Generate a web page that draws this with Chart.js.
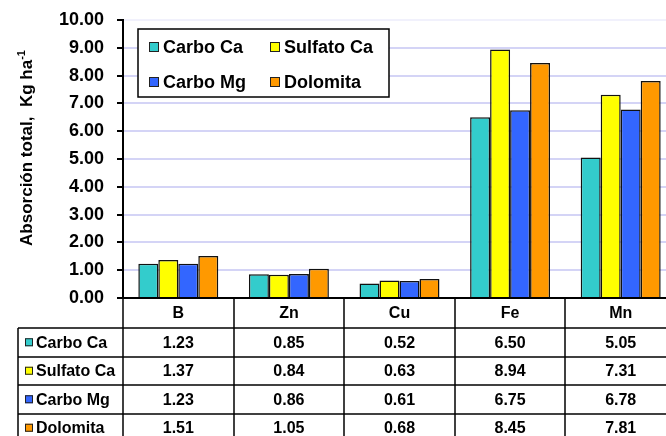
<!DOCTYPE html>
<html>
<head>
<meta charset="utf-8">
<script src="https://cdn.jsdelivr.net/npm/chart.js@4"></script>
<style>
  html, body { margin: 0; padding: 0; background: #fff; overflow: hidden; }
  #wrap { width: 666px; height: 436px; position: relative; overflow: hidden; }
</style>
</head>
<body>
<div id="wrap"><canvas id="chart" width="676" height="436"></canvas></div>
<script>
// --- Data ---
const elements = ["B", "Zn", "Cu", "Fe", "Mn"];
const seriesNames = ["Carbo Ca", "Sulfato Ca", "Carbo Mg", "Dolomita"];
const carboCa = [1.23, 0.85, 0.52, 6.50, 5.05];
const sulfatoCa = [1.37, 0.84, 0.63, 8.94, 7.31];
const carboMg = [1.23, 0.86, 0.61, 6.75, 6.78];
const dolomita = [1.51, 1.05, 0.68, 8.45, 7.81];
const yTicks = [0, 1, 2, 3, 4, 5, 6, 7, 8, 9, 10];

const colors = ["#33CCCC", "#FFFF00", "#3366FF", "#FF9900"];
const allSeries = [carboCa, sulfatoCa, carboMg, dolomita];

const FONT = "Arial, 'Liberation Sans', sans-serif";

// legend box inside the plot, 2 x 2
const legendBox = {
  id: "legendBox",
  afterDraw(chart) {
    const c = chart.ctx;
    const x0 = 138, y0 = 29, w = 251, h = 68;
    c.save();
    c.fillStyle = "#fff";
    c.fillRect(x0, y0, w, h);
    c.strokeStyle = "#000";
    c.lineWidth = 1.5;
    c.strokeRect(x0, y0, w, h);
    c.font = "bold 18px " + FONT;
    c.textBaseline = "middle";
    const pos = [[149, 47], [270, 47], [149, 82], [270, 82]];
    seriesNames.forEach((name, i) => {
      const [px, py] = pos[i];
      c.fillStyle = colors[i];
      c.fillRect(px, py - 5, 10, 10);
      c.lineWidth = 1;
      c.strokeStyle = "#222";
      c.strokeRect(px + 0.5, py - 4.5, 9, 9);
      c.fillStyle = "#000";
      c.fillText(name, px + 14, py + 1);
    });
    c.restore();
  }
};

// data table under the x axis
const dataTable = {
  id: "dataTable",
  afterDraw(chart) {
    const c = chart.ctx;
    const area = chart.chartArea;
    const xs = chart.scales.x;
    const colW = (area.right - area.left) / elements.length;
    const top = area.bottom;
    const headH = 30;
    const rowH = 28.5;
    const leftX = 18;
    c.save();
    c.strokeStyle = "#000";
    c.lineWidth = 1.5;
    c.fillStyle = "#000";
    c.textAlign = "center";
    c.textBaseline = "middle";
    c.font = "bold 16px " + FONT;

    // column lines
    for (let i = 0; i <= elements.length; i++) {
      const x = Math.round(area.left + i * colW);
      c.beginPath();
      c.moveTo(x, top);
      c.lineTo(x, 436);
      c.stroke();
    }
    // row lines
    for (let r = 0; r < seriesNames.length; r++) {
      const y = Math.round(top + headH + r * rowH);
      c.beginPath();
      c.moveTo(leftX, y);
      c.lineTo(area.right, y);
      c.stroke();
    }
    // left border of row labels
    c.beginPath();
    c.moveTo(leftX, top + headH);
    c.lineTo(leftX, 436);
    c.stroke();

    // header
    elements.forEach((el, i) => {
      c.fillText(el, xs.getPixelForValue(i), top + headH / 2 + 1);
    });
    // rows
    allSeries.forEach((vals, r) => {
      const cy = top + headH + (r + 0.5) * rowH + 1;
      vals.forEach((v, i) => {
        c.fillText(v.toFixed(2), xs.getPixelForValue(i), cy);
      });
      c.textAlign = "left";
      c.fillStyle = colors[r];
      c.fillRect(leftX + 7, cy - 5, 8, 8);
      c.lineWidth = 1;
      c.strokeStyle = "#222";
      c.strokeRect(leftX + 7.5, cy - 4.5, 7, 7);
      c.fillStyle = "#000";
      c.fillText(seriesNames[r], leftX + 18, cy);
      c.textAlign = "center";
      c.strokeStyle = "#000";
      c.lineWidth = 1.5;
    });
    c.restore();
  }
};

// rotated y-axis title with superscript
const yTitle = {
  id: "yTitle",
  afterDraw(chart) {
    const c = chart.ctx;
    c.save();
    c.translate(32, 148);
    c.rotate(-Math.PI / 2);
    c.fillStyle = "#000";
    c.textBaseline = "alphabetic";
    const main = "Absorción total,  Kg ha";
    c.font = "bold 17px " + FONT;
    const w1 = c.measureText(main).width;
    c.font = "bold 11px " + FONT;
    const w2 = c.measureText("-1").width;
    const start = -(w1 + w2) / 2;
    c.font = "bold 17px " + FONT;
    c.fillText(main, start, 0);
    c.font = "bold 11px " + FONT;
    c.fillText("-1", start + w1, -7);
    c.restore();
  }
};

const ctx = document.getElementById("chart").getContext("2d");
new Chart(ctx, {
  type: "bar",
  data: {
    labels: elements,
    datasets: seriesNames.map((name, i) => ({
      label: name,
      data: allSeries[i],
      backgroundColor: colors[i],
      borderColor: "#111",
      borderWidth: 1.5,
      barPercentage: 1.0,
      categoryPercentage: 0.723
    }))
  },
  options: {
    responsive: false,
    animation: false,
    layout: { padding: { top: 20, right: 0, left: 0, bottom: 0 } },
    plugins: {
      legend: { display: false },
      tooltip: { enabled: false }
    },
    scales: {
      x: {
        grid: { display: false, drawTicks: false },
        border: { display: true, color: "#000", width: 2 },
        ticks: { display: false },
        afterFit(scale) { scale.height = 138; }
      },
      y: {
        min: 0,
        max: 10,
        afterBuildTicks(scale) { scale.ticks = yTicks.map(v => ({ value: v })); },
        afterFit(scale) {
          scale.width = 123;
          scale.paddingTop = 0;
          scale.paddingBottom = 0;
        },
        grid: {
          color: ctx => (ctx.tick && ctx.tick.value === 10 ? "#f1f1fc" : "#d4d4f6"),
          lineWidth: 2,
          drawTicks: true,
          tickLength: 6,
          tickColor: "#000",
          tickWidth: 2
        },
        border: { display: true, color: "#000", width: 2 },
        ticks: {
          color: "#000",
          padding: 13,
          font: { family: FONT, size: 18, weight: "bold" },
          callback: v => v.toFixed(2)
        }
      }
    }
  },
  plugins: [legendBox, dataTable, yTitle]
});
</script>
</body>
</html>
